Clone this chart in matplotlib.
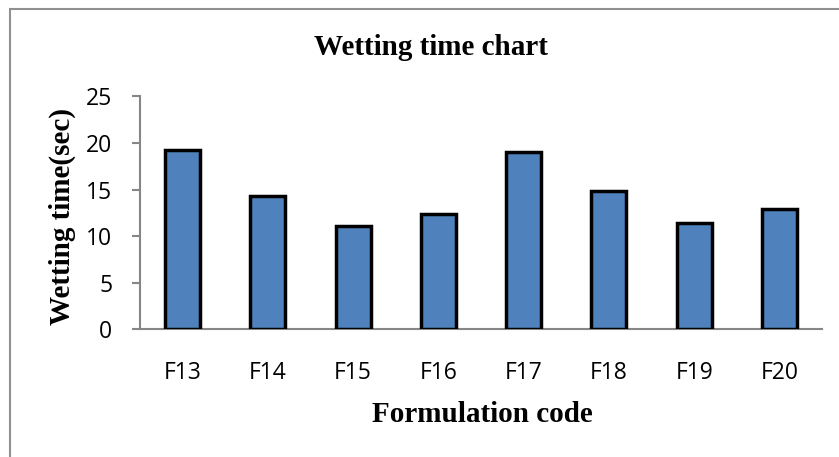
import matplotlib.pyplot as plt
from matplotlib.patches import Rectangle

codes = ["F13", "F14", "F15", "F16", "F17", "F18", "F19", "F20"]
wetting_time = [19.2, 14.3, 11.1, 12.4, 19.0, 14.8, 11.4, 12.9]
y_ticks = [0, 5, 10, 15, 20, 25]

serif = ["Liberation Serif", "DejaVu Serif"]
sans = ["Open Sans", "DejaVu Sans"]
W, H = 839, 457

fig = plt.figure(figsize=(W / 100, H / 100), dpi=100)
ax = fig.add_axes([140 / W, 1 - 329.3 / H, 682 / W, 233 / H])

x = list(range(len(codes)))
ax.bar(x, wetting_time, width=0.41, color="#4F81BD", edgecolor="black",
       linewidth=2.5, zorder=3)

ax.set_xlim(-0.5, len(codes) - 0.5)
ax.set_ylim(0, 25)
ax.set_yticks(y_ticks)
ax.set_xticks(x)
ax.set_xticklabels(codes, fontfamily=sans, fontsize=16.5)
ax.set_yticklabels([str(t) for t in y_ticks], fontfamily=sans, fontsize=16.5)

for s in ["top", "right"]:
    ax.spines[s].set_visible(False)
for s in ["left", "bottom"]:
    ax.spines[s].set_color("#868686")
    ax.spines[s].set_linewidth(1.5)
ax.tick_params(axis="y", length=6, width=1.5, color="#868686", pad=14)
ax.tick_params(axis="x", length=0, pad=23)

# titles placed in pixel terms
fig.text(431 / W, 1 - 55 / H, "Wetting time chart", fontfamily=serif,
         fontweight="bold", fontsize=21, ha="center", va="baseline")
fig.text(482 / W, 1 - 422 / H, "Formulation code", fontfamily=serif,
         fontweight="bold", fontsize=21, ha="center", va="baseline")
fig.text(62 / W, 1 - 216.5 / H, "Wetting time(sec)", fontfamily=serif,
         fontweight="bold", fontsize=21, ha="center", va="center", rotation=90)

# outer chart border (only left and top edges fall inside the image)
fig.patches.append(Rectangle((10 / W, -0.1), 1.2, 1.1 - 8.7 / H,
                             transform=fig.transFigure, fill=False,
                             edgecolor="#909090", linewidth=1.5))

fig.savefig("out.png", dpi=100)
